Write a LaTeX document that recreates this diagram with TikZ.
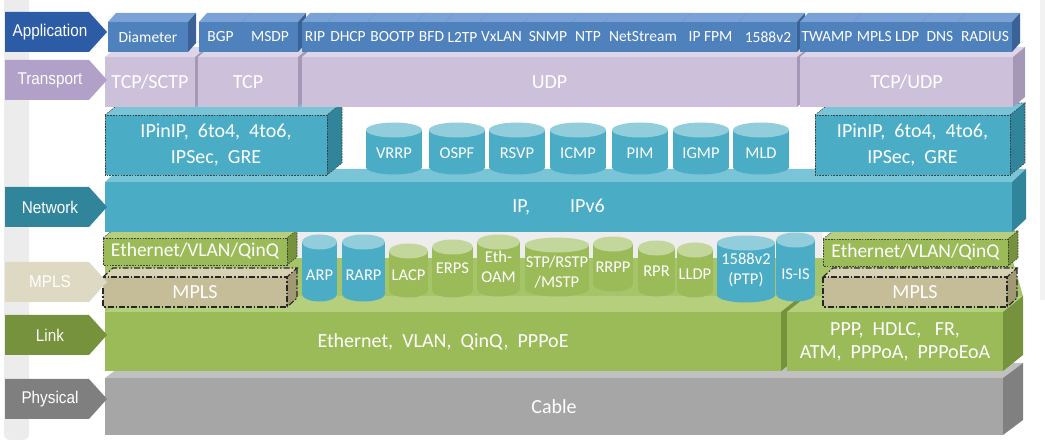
\documentclass[tikz,border=0pt]{standalone}
\usepackage{fontspec}
\setmainfont{Carlito}
\newfontfamily\labfont[FakeStretch=0.9]{Liberation Sans}
\definecolor{appF}{RGB}{79,129,189}
\definecolor{appT}{RGB}{122,162,214}
\definecolor{appS}{RGB}{58,98,150}
\definecolor{trF}{RGB}{204,192,218}
\definecolor{trT}{RGB}{221,213,233}
\definecolor{trS}{RGB}{165,152,182}
\definecolor{tlF}{RGB}{75,172,198}
\definecolor{tlT}{RGB}{122,196,216}
\definecolor{tlS}{RGB}{49,133,155}
\definecolor{tlC}{RGB}{146,205,220}
\definecolor{grF}{RGB}{155,187,89}
\definecolor{grT}{RGB}{181,207,125}
\definecolor{grS}{RGB}{118,146,60}
\definecolor{grC}{RGB}{195,214,155}
\definecolor{grFloor}{RGB}{166,197,106}
\definecolor{beF}{RGB}{196,189,151}
\definecolor{beT}{RGB}{215,210,180}
\definecolor{beS}{RGB}{160,153,115}
\definecolor{gyF}{RGB}{166,166,166}
\definecolor{gyT}{RGB}{192,192,192}
\definecolor{gyS}{RGB}{128,128,128}
\definecolor{labApp}{RGB}{44,92,166}
\definecolor{labTr}{RGB}{177,160,199}
\definecolor{labNet}{RGB}{49,133,155}
\definecolor{labMpls}{RGB}{221,217,195}
\definecolor{labLink}{RGB}{118,146,60}
\definecolor{labPhy}{RGB}{127,127,127}
\definecolor{strip}{RGB}{236,236,236}
% colours and depth of the next cubes
\newcommand\cubeset[5]{\def\cF{#1}\def\cT{#2}\def\cS{#3}\def\dX{#4}\def\dY{#5}}
% [front style]{name}{x1}{y1}{x2}{y2}{text}
\newcommand\cube[7][]{%
  \fill[\cT] (#3,#4) -- ++(\dX,-\dY) -- ({#5+\dX},{#4-\dY}) -- (#5,#4) -- cycle;
  \fill[\cS] (#5,#4) -- ({#5+\dX},{#4-\dY}) -- ({#5+\dX},{#6-\dY}) -- (#5,#6) -- cycle;
  \node[face, fill=\cF, minimum width={(#5-#3)*1pt}, minimum height={(#6-#4)*1pt}, #1]
    (#2) at ({(#3+#5)/2},{(#4+#6)/2}) {#7};}
% {style}{x1}{y1}{x2}{y2}
\newcommand\cubeedge[5]{%
  \draw[#1] (#2,#3) rectangle (#4,#5);
  \draw[#1] (#2,#3) -- ++(\dX,-\dY) -- ({#4+\dX},{#3-\dY}) -- (#4,#3);
  \draw[#1] ({#4+\dX},{#3-\dY}) -- ({#4+\dX},{#5-\dY}) -- (#4,#5);}
% {name}{cx}{ytop}{ybot}{halfwidth}{front}{top}{texty}{text}
\newcommand\cyl[9]{%
  \fill[#6] ({#2-#5},#3) rectangle ({#2+#5},#4);
  \fill[#6] (#2,#4) ellipse[x radius=#5, y radius=7.5];
  \fill[#7] (#2,#3) ellipse[x radius=#5, y radius=7.5];
  \node[face, cyltext] (#1) at (#2,#8) {#9};}
% {name}{y1}{y2}{colour}{text}
\newcommand\layerlab[5]{%
  \fill[#4] (5,#2) -- (89,#2) -- (107,{(#2+#3)/2}) -- (89,#3) -- (5,#3) -- cycle;
  \node[labtext] (#1) at (50,{(#2+#3)/2}) {#5};}
\begin{document}
\begin{tikzpicture}[x=1pt,y=-1pt,
  face/.style={inner sep=0pt, outer sep=0pt, text=white, align=center},
  apptext/.style={font=\fontsize{15.5}{17}\selectfont},
  cyltext/.style={font=\fontsize{16.5}{19.5}\selectfont},
  bigtext/.style={font=\fontsize{20}{26}\selectfont},
  midtext/.style={font=\fontsize{19.5}{22}\selectfont},
  labtext/.style={text=white, font=\labfont\fontsize{17}{19}\selectfont},
  dotedge/.style={draw=black!75, line width=0.6pt, dash pattern=on 1.6pt off 1.2pt},
  dashdotedge/.style={draw=black!85, line width=1.1pt, dash pattern=on 6pt off 2pt on 1.5pt off 2pt}]
\useasboundingbox (0,0) rectangle (1045,443);
% background strips
\fill[strip, rounded corners=6pt] (4,-5) rectangle (29,440);
\fill[strip!70] (1040,0) rectangle (1045,300);
% ---------- Physical ----------
\cubeset{gyF}{gyT}{gyS}{20}{15}
\cube[bigtext]{cable}{105}{378}{1003}{435}{Cable}
% ---------- Link ----------
\fill[grFloor] (105,312) -- (105,258) -- (1012,258) -- (1023,296) -- (1003,312) -- cycle;
\fill[black!7] (290,232) rectangle (822,258);
\cubeset{grF}{grT}{grS}{20}{16}
\cube[bigtext]{ethlink}{105}{312}{781}{371}{Ethernet,~ VLAN,~ QinQ,~ PPPoE}
\cube[font=\fontsize{20}{23}\selectfont]{ppplink}{787}{312}{1003}{371}{PPP,~ HDLC,~ ~FR,\\ATM,~ PPPoA,~ PPPoEoA}
% ---------- MPLS-level protocols ----------
\cyl{arp}{319.5}{242}{294}{17.5}{tlF}{tlC}{275}{ARP}
\cyl{rarp}{363.5}{242}{294}{21.5}{tlF}{tlC}{275}{RARP}
\cyl{lacp}{408.5}{251}{290}{19.5}{grF}{grC}{275}{LACP}
\cyl{erps}{452.5}{247}{290}{20.5}{grF}{grC}{268}{ERPS}
\cyl{ethoam}{498.5}{242}{289}{21.5}{grF}{grC}{267}{Eth-\\OAM}
\cyl{stp}{557}{245}{289}{32}{grF}{grC}{272}{STP/RSTP\\/MSTP}
\cyl{rrpp}{613}{244}{284}{20}{grF}{grC}{267}{RRPP}
\cyl{rpr}{656.5}{248}{289}{18.5}{grF}{grC}{271}{RPR}
\cyl{lldp}{695}{250}{290}{18}{grF}{grC}{274}{LLDP}
\cyl{ptp}{746}{243}{295}{29}{tlF}{tlC}{270}{1588v2\\(PTP)}
\cyl{isis}{795.5}{240}{294}{19.5}{tlF}{tlC}{274}{IS-IS}
\cubeset{beF}{beT}{beS}{10}{9}
\cube[bigtext]{mplsl}{103}{277}{287}{307}{MPLS}
\cubeedge{dashdotedge}{103}{277}{287}{307}
\cube[bigtext]{mplsr}{823}{277}{1007}{307}{MPLS}
\cubeedge{dashdotedge}{823}{277}{1007}{307}
\cubeset{grF}{grT}{grS}{10}{8}
\cube[midtext]{ethl}{103}{238}{287}{265}{Ethernet/VLAN/QinQ}
\cubeedge{dotedge}{103}{238}{287}{265}
\cube[midtext]{ethr}{823}{239}{1008}{266}{Ethernet/VLAN/QinQ}
\cubeedge{dotedge}{823}{239}{1008}{266}
% ---------- Network ----------
\cubeset{tlF}{tlT}{tlS}{14}{13}
\cube[bigtext]{ip}{105}{182}{1012}{232}{IP,\qquad IPv6}
\cyl{vrrp}{394}{130}{167}{28}{tlF}{tlC}{153}{VRRP}
\cyl{ospf}{457}{130}{167}{28}{tlF}{tlC}{153}{OSPF}
\cyl{rsvp}{517}{130}{167}{28}{tlF}{tlC}{153}{RSVP}
\cyl{icmp}{578}{130}{167}{28}{tlF}{tlC}{153}{ICMP}
\cyl{pim}{640}{130}{167}{28}{tlF}{tlC}{153}{PIM}
\cyl{igmp}{701}{130}{167}{28}{tlF}{tlC}{153}{IGMP}
\cyl{mld}{761}{130}{167}{28}{tlF}{tlC}{153}{MLD}
\cubeset{tlF}{tlT}{tlS}{15}{12}
\cube[bigtext]{tunl}{105}{115}{327}{175}{IPinIP,~ 6to4,~ 4to6,\\IPSec,~ GRE}
\cubeedge{dotedge}{105}{115}{327}{175}
\cube[bigtext]{tunr}{815}{115}{1010}{175}{IPinIP,~ 6to4,~ 4to6,\\IPSec,~ GRE}
\cubeedge{dotedge}{815}{115}{1010}{175}
% ---------- Transport ----------
\cubeset{trF}{trT}{trS}{12}{10}
\cube[bigtext]{sctp}{105}{57}{195}{107}{TCP/SCTP}
\cube[bigtext]{tcp}{198}{57}{298}{107}{TCP}
\cube[bigtext]{udp}{302}{57}{797}{107}{UDP}
\cube[bigtext]{tcpudp}{800}{57}{1013}{107}{TCP/UDP}
% ---------- Application ----------
\cubeset{appF}{appT}{appS}{8}{9}
\cube[apptext]{diameter}{108}{22}{188}{52}{Diameter}
\cube[apptext]{bgp}{199}{22}{242}{52}{BGP}
\cube[apptext]{msdp}{242}{22}{298}{52}{MSDP}
\cube[apptext]{rip}{302}{22}{328}{52}{RIP}
\cube[apptext]{dhcp}{328}{22}{368}{52}{DHCP}
\cube[apptext]{bootp}{368}{22}{417}{52}{BOOTP}
\cube[apptext]{bfd}{417}{22}{446}{52}{BFD}
\cube[apptext]{ltwotp}{446}{22}{479}{52}{L2TP}
\cube[apptext]{vxlan}{479}{22}{524}{52}{VxLAN}
\cube[apptext]{snmp}{524}{22}{572}{52}{SNMP}
\cube[apptext]{ntp}{572}{22}{604}{52}{NTP}
\cube[apptext]{netstream}{604}{22}{682}{52}{NetStream}
\cube[apptext]{ipfpm}{682}{22}{739}{52}{IP FPM}
\cube[apptext]{ptpapp}{739}{22}{797}{52}{1588v2}
\cube[apptext]{twamp}{800}{22}{854}{52}{TWAMP}
\cube[apptext]{mplsldp}{854}{22}{922}{52}{MPLS LDP}
\cube[apptext]{dns}{922}{22}{958}{52}{DNS}
\cube[apptext]{radius}{958}{22}{1012}{52}{RADIUS}
% ---------- layer labels ----------
\layerlab{lapp}{12}{52}{labApp}{Application}
\layerlab{ltr}{60}{100}{labTr}{Transport}
\layerlab{lnet}{187}{227}{labNet}{Network}
\layerlab{lmpls}{262}{302}{labMpls}{MPLS}
\layerlab{llink}{315}{355}{labLink}{Link}
\layerlab{lphy}{379}{419}{labPhy}{Physical}
\end{tikzpicture}
\end{document}
